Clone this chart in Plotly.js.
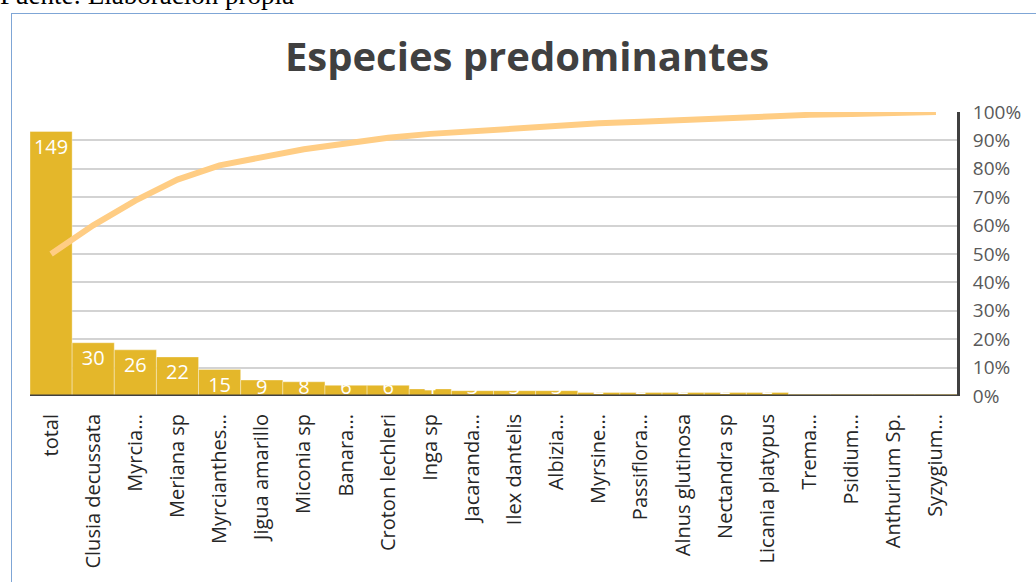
<!DOCTYPE html>
<html>
<head>
<meta charset="utf-8">
<script src="https://cdn.plot.ly/plotly-3.0.1.min.js"></script>
<style>
  html, body { margin: 0; padding: 0; background: #ffffff; overflow: hidden; }
  #wrap { position: relative; width: 1036px; height: 582px; overflow: hidden; }
  #chart { position: absolute; left: 0; top: 0; width: 1036px; height: 582px; }
  #frame { position: absolute; left: 11px; top: 13px; width: 1100px; height: 700px;
           border: 1px solid #7fa6d6; pointer-events: none; }
  #source { position: absolute; left: 0px; top: -18px; font-family: "Liberation Serif", serif;
            font-size: 27px; line-height: 27px; color: #000; white-space: nowrap; }
</style>
</head>
<body>
<div id="wrap">
  <div id="source">Fuente: Elaboración propia</div>
  <div id="frame"></div>
  <div id="chart"></div>
</div>
<script>
const categories = ["total", "Clusia decussata", "Myrcia...", "Meriana sp", "Myrcianthes...",
  "Jigua amarillo", "Miconia sp", "Banara...", "Croton lechleri", "Inga sp", "Jacaranda...",
  "Ilex dantelis", "Albizia...", "Myrsine...", "Passiflora...", "Alnus glutinosa",
  "Nectandra sp", "Licania platypus", "Trema...", "Psidium...", "Anthurium Sp.", "Syzygium..."];

const counts = [149, 30, 26, 22, 15, 9, 8, 6, 6, 4, 3, 3, 3, 2, 2, 2, 2, 2, 1, 1, 1, 1];

const cumulativePct = [0.500, 0.601, 0.688, 0.762, 0.812, 0.842, 0.869, 0.889, 0.909, 0.923, 0.933,
  0.943, 0.953, 0.960, 0.966, 0.973, 0.980, 0.987, 0.990, 0.993, 0.997, 1.000];

const pctTicks = [0, 0.1, 0.2, 0.3, 0.4, 0.5, 0.6, 0.7, 0.8, 0.9, 1.0];

const FONT = '"Open Sans", sans-serif';

// Inside-end data labels are kept from sinking below the baseline (as the original does)
const LABEL_FLOOR = 13.5;
const labelAnchor = counts.map(v => Math.max(v, LABEL_FLOOR));

const bars = {
  type: 'bar', x: categories, y: counts, yaxis: 'y', xaxis: 'x',
  marker: { color: '#e4b72a', line: { color: 'rgba(255,255,255,0.35)', width: 1 } },
  hoverinfo: 'skip', showlegend: false
};

const labels = {
  type: 'scatter', mode: 'markers+text', x: categories, y: labelAnchor, yaxis: 'y', xaxis: 'x',
  marker: { size: 10, color: 'rgba(0,0,0,0)' },
  text: counts.map(String), textposition: 'bottom center',
  textfont: { family: FONT, size: 20, color: '#ffffff' },
  cliponaxis: true, hoverinfo: 'skip', showlegend: false
};

const cumLine = {
  type: 'scatter', mode: 'lines', x: categories, y: cumulativePct, yaxis: 'y2', xaxis: 'x',
  line: { color: '#ffcd84', width: 6 },
  hoverinfo: 'skip', showlegend: false
};

const layout = {
  width: 1036, height: 582,
  margin: { l: 30, r: 79, t: 112, b: 186, pad: 0 },
  paper_bgcolor: 'rgba(0,0,0,0)', plot_bgcolor: 'rgba(0,0,0,0)',
  font: { family: FONT, color: '#404040' },
  title: {
    text: 'Especies predominantes',
    font: { family: FONT, size: 40, color: '#404040', weight: 'bold' },
    x: 527 / 1036, xanchor: 'center', xref: 'container',
    y: 1 - 57 / 582, yanchor: 'middle', yref: 'container'
  },
  bargap: 0,
  xaxis: {
    type: 'category', range: [-0.5, categories.length - 0.5], autorange: false,
    tickangle: -90, showgrid: false, zeroline: false, showline: false,
    ticks: '', ticklabelstandoff: 13,
    tickfont: { family: FONT, size: 20, color: '#262626' }
  },
  yaxis: {
    range: [0, 160], showgrid: false, zeroline: false, showline: false,
    showticklabels: false, ticks: ''
  },
  yaxis2: {
    overlaying: 'y', side: 'right', range: [0, 1],
    tickmode: 'array', tickvals: pctTicks, ticktext: pctTicks.map(v => Math.round(v * 100) + '%'),
    showgrid: true, gridcolor: '#d3d3d3', gridwidth: 2, zeroline: false,
    showline: true, linecolor: '#404040', linewidth: 3,
    ticks: '', ticklabelstandoff: 9,
    tickfont: { family: FONT, size: 19, color: '#595959' }
  },
  shapes: [{
    type: 'line', layer: 'above', xref: 'paper', x0: 0, x1: 1.0017, yref: 'y', y0: 0, y1: 0,
    line: { color: '#404040', width: 3 }
  }]
};

Plotly.newPlot('chart', [bars, labels, cumLine], layout, { staticPlot: true, displayModeBar: false });
</script>
</body>
</html>
